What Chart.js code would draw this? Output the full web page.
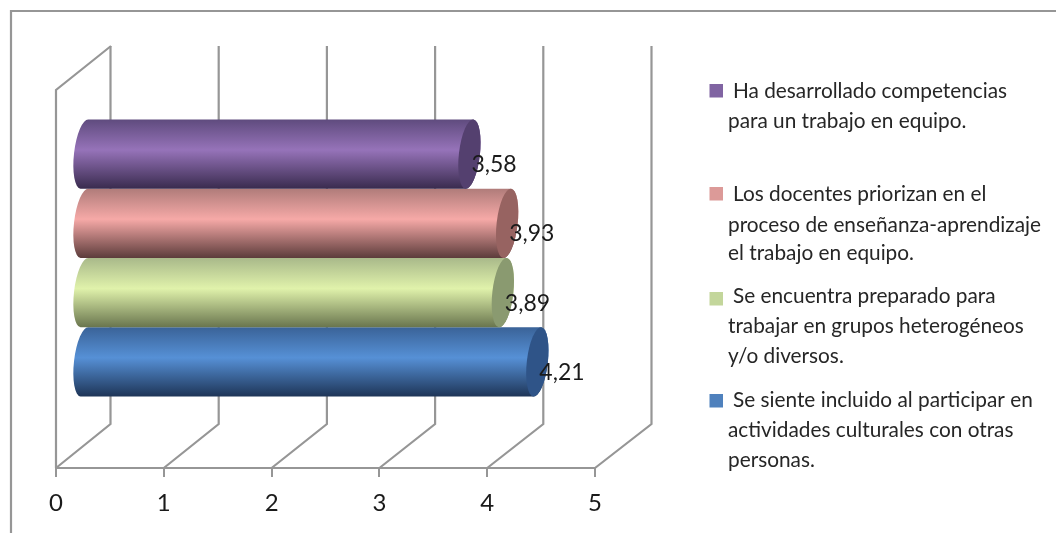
<!DOCTYPE html>
<html>
<head>
<meta charset="utf-8">
<script src="https://cdn.jsdelivr.net/npm/chart.js@4"></script>
<style>
  html, body { margin: 0; padding: 0; background: #fff; }
  #wrap { width: 1056px; height: 533px; }
</style>
</head>
<body>
<div id="wrap"><canvas id="myChart" width="1056" height="533"></canvas></div>
<script>
// Series are listed top to bottom, same as the legend
var seriesNames = [
  "Ha desarrollado competencias para un trabajo en equipo.",
  "Los docentes priorizan en el proceso de enseñanza-aprendizaje el trabajo en equipo.",
  "Se encuentra preparado para trabajar en grupos heterogéneos y/o diversos.",
  "Se siente incluido al participar en actividades culturales con otras personas."
];
var seriesValues = [3.58, 3.93, 3.89, 4.21];
var valueLabels = ["3,58", "3,93", "3,89", "4,21"];
var legendLines = [
  ["Ha desarrollado competencias", "para un trabajo en equipo."],
  ["Los docentes priorizan en el", "proceso de enseñanza-aprendizaje", "el trabajo en equipo."],
  ["Se encuentra preparado para", "trabajar en grupos heterogéneos", "y/o diversos."],
  ["Se siente incluido al participar en", "actividades culturales con otras", "personas."]
];
var tickLabels = ["0", "1", "2", "3", "4", "5"];

// colours of each cylinder: top, highlight, bottom, end cap, legend swatch
var barColors = [
  ["#5f4b7e", "#9673b9", "#392b4e", "#54406f", "#8064a2"],
  ["#b07c7a", "#f6a9a7", "#5c3c3b", "#976361", "#dc9a98"],
  ["#a9b98a", "#e0f2ab", "#69754e", "#8a9a70", "#c3d69b"],
  ["#3a6398", "#5690d6", "#1e3557", "#2f5488", "#4f81bd"]
];

var GRID = "#969696";
var FONT = "Lato";
var depthX = 54, depthY = 44;   // wall depth of the fake 3D
var midX = 27.5, midY = 21;     // bars sit halfway into the depth

var wallsAndBars = {
  id: "wallsAndBars",
  beforeDatasetsDraw: function(chart) {
    var c = chart.ctx, a = chart.chartArea, x = chart.scales.x;
    c.save();
    c.strokeStyle = GRID;
    c.lineWidth = 2.2;
    // outer frame, open to the right and bottom
    c.beginPath();
    c.moveTo(1056, 11);
    c.lineTo(11, 11);
    c.lineTo(11, 533);
    c.stroke();
    // side wall
    c.beginPath();
    c.moveTo(x.left, a.bottom);
    c.lineTo(x.left, a.top);
    c.lineTo(x.left + depthX + 1, a.top - depthY);
    c.stroke();
    // grid lines run along the floor and up the back, back wall is a touch wider
    for (var i = 0; i < tickLabels.length; i++) {
      var px = x.getPixelForValue(i);
      var back = px + depthX + 0.4 * i + 0.5;
      c.beginPath();
      c.moveTo(px, a.bottom);
      c.lineTo(back, a.bottom - depthY);
      c.lineTo(back, a.top - depthY);
      c.stroke();
    }
    c.restore();
  },
  afterDatasetsDraw: function(chart) {
    var c = chart.ctx;
    var tilt = 0.115, rx = 10.5;
    c.save();
    for (var d = seriesValues.length - 1; d >= 0; d--) {
      var el = chart.getDatasetMeta(d).data[0];
      var cols = barColors[d];
      var cy = el.y - midY, h = el.height;
      var ry = h / 2 / Math.cos(tilt);
      var x0 = el.base + midX, x1 = el.x + midX;
      var g = c.createLinearGradient(0, cy - h / 2, 0, cy + h / 2);
      g.addColorStop(0, cols[0]);
      g.addColorStop(0.44, cols[1]);
      g.addColorStop(1, cols[2]);
      c.fillStyle = g;
      c.beginPath();
      c.ellipse(x0, cy, rx, ry, tilt, Math.PI / 2, Math.PI * 1.5);
      c.ellipse(x1, cy, rx, ry, tilt, -Math.PI / 2, Math.PI / 2);
      c.closePath();
      c.fill();
      c.fillStyle = cols[3];
      c.beginPath();
      c.ellipse(x1, cy, rx, ry, tilt, 0, Math.PI * 2);
      c.fill();
    }
    // value labels
    c.fillStyle = "#1a1a1a";
    c.font = "23px " + FONT;
    c.textAlign = "left";
    c.textBaseline = "middle";
    for (var d2 = 0; d2 < seriesValues.length; d2++) {
      var e2 = chart.getDatasetMeta(d2).data[0];
      c.fillText(valueLabels[d2], e2.x + 29.5, e2.y - midY + 10.5);
    }
    // legend
    var swatchY = [84, 187, 292, 394];
    var baseY = [[98, 128], [201, 232, 260], [303, 333, 363], [407, 437, 467]];
    c.font = "20.8px " + FONT;
    c.textBaseline = "alphabetic";
    for (var k = 0; k < legendLines.length; k++) {
      c.fillStyle = barColors[k][4];
      c.fillRect(709.5, swatchY[k], 13.5, 13.5);
      c.fillStyle = "#262626";
      for (var l = 0; l < legendLines[k].length; l++) {
        c.fillText(legendLines[k][l], l == 0 ? 733 : 728, baseY[k][l]);
      }
    }
    c.restore();
  }
};

var datasets = [];
for (var i = 0; i < seriesNames.length; i++) {
  datasets.push({
    label: seriesNames[i],
    data: [seriesValues[i]],
    backgroundColor: "rgba(0,0,0,0)",
    categoryPercentage: 0.733,
    barPercentage: 1
  });
}

var myChart = new Chart(document.getElementById("myChart").getContext("2d"), {
  type: "bar",
  data: { labels: [""], datasets: datasets },
  plugins: [wallsAndBars],
  options: {
    indexAxis: "y",
    responsive: false,
    animation: false,
    layout: { padding: { left: 56, right: 461, top: 90, bottom: 0 } },
    plugins: { legend: { display: false }, tooltip: { enabled: false } },
    scales: {
      x: {
        min: 0,
        max: 5,
        afterFit: function(s) { s.height = 65; },
        afterBuildTicks: function(s) {
          s.ticks = tickLabels.map(function(t) { return { value: Number(t) }; });
        },
        ticks: {
          color: "#1a1a1a",
          font: { family: FONT, size: 24 },
          padding: 12,
          maxRotation: 0,
          callback: function(v) { return tickLabels[v]; }
        },
        grid: { drawOnChartArea: false, drawTicks: true, tickLength: 9, color: GRID, lineWidth: 2 },
        border: { color: GRID, width: 2 }
      },
      y: { display: false }
    }
  }
});
</script>
</body>
</html>
